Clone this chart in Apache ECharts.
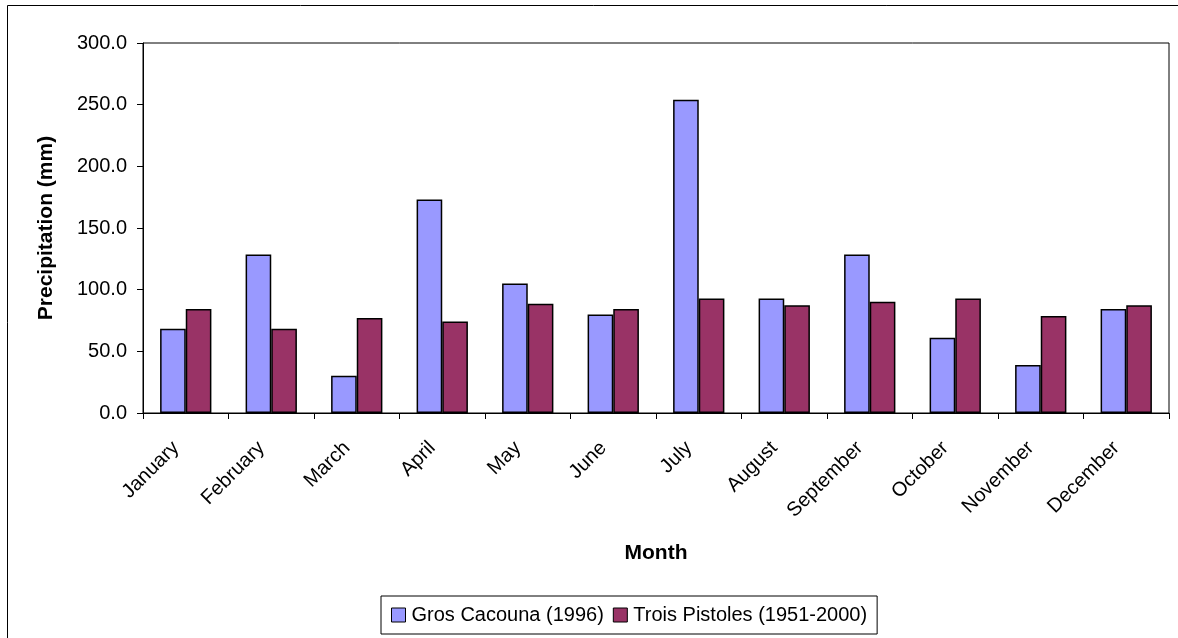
<!DOCTYPE html>
<html>
<head>
<meta charset="utf-8">
<script src="https://cdn.jsdelivr.net/npm/echarts@6/dist/echarts.min.js"></script>
<style>
  html, body { margin: 0; padding: 0; background: #fff; }
  #chart { width: 1178px; height: 638px; }
</style>
</head>
<body>
<div id="chart"></div>
<script>
// Monthly precipitation: Gros Cacouna (1996) vs Trois Pistoles normals
const months = ['January', 'February', 'March', 'April', 'May', 'June',
  'July', 'August', 'September', 'October', 'November', 'December'];
const grosCacouna = [68.3, 128.5, 30.3, 173.2, 104.9, 79.9, 253.9, 92.9, 128.5, 61.0, 39.0, 84.3];
const troisPistoles = [84.3, 68.3, 77.0, 74.2, 88.6, 84.3, 92.9, 87.3, 90.2, 92.9, 78.6, 87.3];
const seriesNames = ['Gros Cacouna (1996)', 'Trois Pistoles (1951-2000)'];

const font = '"Liberation Sans", Arial, sans-serif';
const chart = echarts.init(document.getElementById('chart'));

chart.setOption({
  animation: false,
  backgroundColor: '#fff',
  textStyle: { fontFamily: font },
  graphic: [{
    // outer chart frame
    type: 'rect',
    x: 7.5, y: 5.5,
    shape: { width: 1200, height: 700 },
    style: { fill: 'none', stroke: '#000', lineWidth: 1 },
    silent: true
  }],
  grid: {
    left: 143, top: 43, width: 1026, height: 370,
    show: true, borderColor: '#000', borderWidth: 1, backgroundColor: 'transparent'
  },
  legend: {
    data: seriesNames,
    left: 381, top: 596,
    padding: [9, 10, 9, 10],
    borderColor: '#000', borderWidth: 1,
    itemWidth: 14, itemHeight: 14, itemGap: 9,
    icon: 'rect',
    itemStyle: { borderColor: '#000', borderWidth: 1 },
    textStyle: { fontFamily: font, fontSize: 20, color: '#000', padding: [0, 0, 0, 1] }
  },
  xAxis: {
    type: 'category',
    data: months,
    name: 'Month',
    nameLocation: 'middle',
    nameGap: 130,
    nameTextStyle: { fontFamily: font, fontSize: 21, fontWeight: 'bold', color: '#000' },
    axisLine: { lineStyle: { color: '#000', width: 1 } },
    axisTick: { show: true, length: 6, lineStyle: { color: '#000' } },
    axisLabel: {
      rotate: 45, fontFamily: font, fontSize: 20, color: '#000', margin: 22,
      padding: [0, 14, 0, 0]
    },
    splitLine: { show: false }
  },
  yAxis: {
    type: 'value',
    min: 0, max: 300, interval: 50,
    name: 'Precipitation (mm)',
    nameLocation: 'middle',
    nameGap: 86,
    nameTextStyle: { fontFamily: font, fontSize: 21, fontWeight: 'bold', color: '#000' },
    axisLine: { show: true, lineStyle: { color: '#000', width: 1 } },
    axisTick: { show: true, length: 6, lineStyle: { color: '#000' } },
    axisLabel: {
      fontFamily: font, fontSize: 20, color: '#000', margin: 16,
      formatter: v => v.toFixed(1)
    },
    splitLine: { show: false }
  },
  series: [
    {
      name: seriesNames[0], type: 'bar', data: grosCacouna,
      barGap: '0%', barCategoryGap: '40%',
      itemStyle: { color: '#9999ff', borderColor: '#000', borderWidth: 1.5 }
    },
    {
      name: seriesNames[1], type: 'bar', data: troisPistoles,
      barGap: '0%', barCategoryGap: '40%',
      itemStyle: { color: '#993366', borderColor: '#000', borderWidth: 1.5 }
    }
  ]
});
</script>
</body>
</html>
